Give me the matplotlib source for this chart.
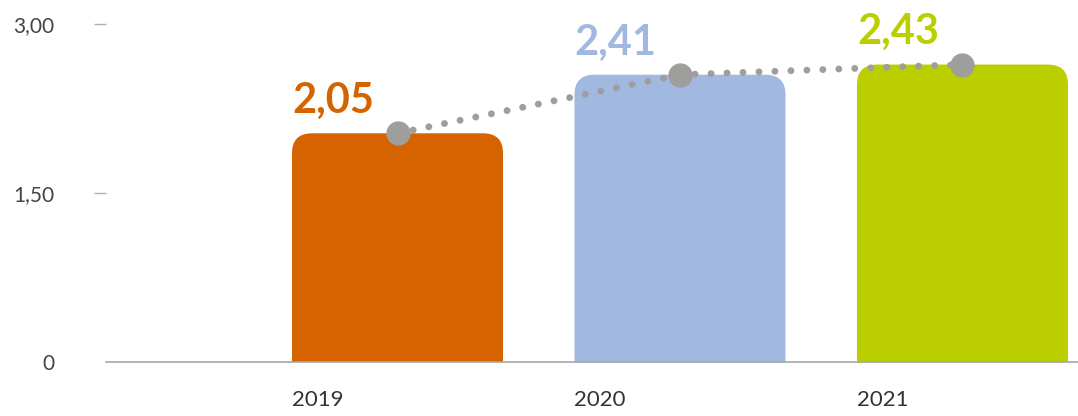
import numpy as np
import matplotlib
matplotlib.use("Agg")
import matplotlib.pyplot as plt
from matplotlib.patches import FancyBboxPatch

#%% data
years = ["2019", "2020", "2021"]
bar_heights = [2.03, 2.55, 2.64]      # drawn bar heights on the axis
value_labels = ["2,05", "2,41", "2,43"]
bar_colors = ["#D46300", "#A1B8E1", "#BBCF00"]
y_ticks = [0, 1.5, 3.0]
y_tick_labels = ["0", "1,50", "3,00"]

#%% plot
plt.rcParams["font.family"] = ["Lato", "DejaVu Sans"]

fig = plt.figure(figsize=(10.78, 4.16), dpi=100)
ax = fig.add_axes([106/1078, (416-362)/416, (1078-106)/1078, (362-24)/416])

x = np.arange(len(years))
w = 0.747
bars = ax.bar(x, bar_heights, width=w, color=bar_colors)

# swap the plain rectangles for ones with rounded top corners
r_x = 20/282.5
aspect = (20/112.7)/r_x
for rect, col in zip(bars.patches, bar_colors):
    x0, y0 = rect.get_xy()
    fb = FancyBboxPatch((x0, y0 - 0.5), rect.get_width(), rect.get_height() + 0.5,
                        boxstyle="round,pad=0,rounding_size={}".format(r_x),
                        mutation_aspect=aspect, facecolor=col, edgecolor="none",
                        zorder=2)
    ax.add_patch(fb)
    rect.remove()

# dotted trend line with big markers at bar tops
ax.plot(x, bar_heights, color="#9E9E9C", linewidth=5,
        linestyle=(0, (0.001, 2.3)), dash_capstyle="round", zorder=3)
ax.plot(x, bar_heights, "o", color="#9E9E9C", markersize=16.5, zorder=4)

# value labels, left aligned on the bar edge
for xi, h, txt, col in zip(x, bar_heights, value_labels, bar_colors):
    ax.annotate(txt, (xi - w/2, h), xytext=(0, 14.5), textcoords="offset points",
                ha="left", va="baseline", fontsize=30, fontweight="bold",
                color=col, annotation_clip=False)

ax.set_xlim(-1.032, 2.409)
ax.set_ylim(0, 3.0)

ax.set_xticks(x - w/2)
ax.set_xticklabels(years, ha="left", fontsize=16, color="#333333")
ax.tick_params(axis="x", length=0, pad=20)

ax.set_yticks(y_ticks)
ax.set_yticklabels(y_tick_labels, fontsize=15, color="#444444")
ax.tick_params(axis="y", direction="out", length=9, width=1, color="#B0B0B0", pad=28)
ax.yaxis.get_major_ticks()[0].tick1line.set_visible(False)

for s in ["top", "right", "left"]:
    ax.spines[s].set_visible(False)
ax.spines["bottom"].set_color("#A6A6A6")
ax.spines["bottom"].set_linewidth(1.2)
ax.spines["bottom"].set_zorder(5)

plt.savefig("out.png", dpi=100)
